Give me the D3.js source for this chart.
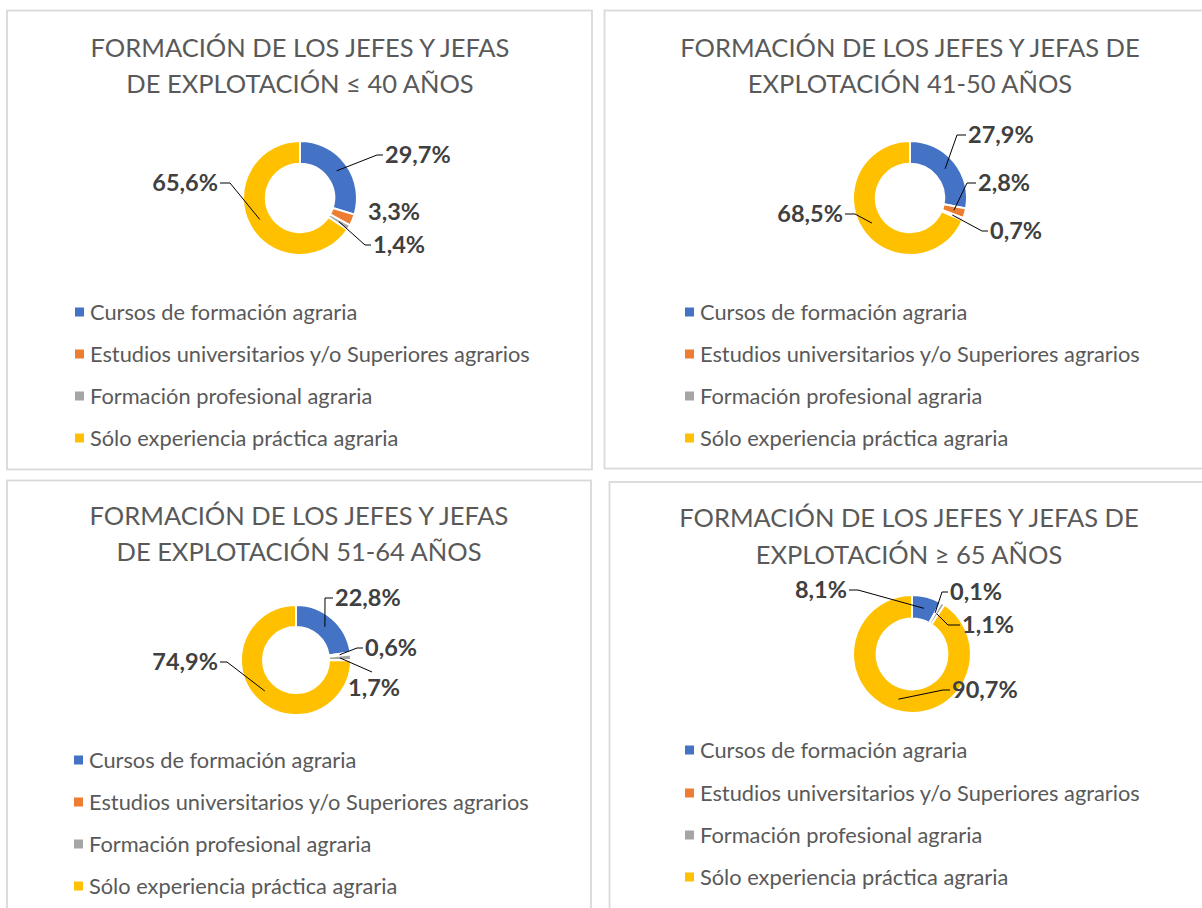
<!DOCTYPE html>
<html><head><meta charset="utf-8">
<script src="https://cdn.jsdelivr.net/npm/d3@7"></script>
<style>body{margin:0;background:#fff}svg{display:block}</style>
</head><body>
<svg id="c" width="1202" height="908"></svg>
<script>
// ---- data ----
const categories = ["Cursos de formación agraria", "Estudios universitarios y/o Superiores agrarios", "Formación profesional agraria", "Sólo experiencia práctica agraria"];
const colors = ["#4472C4", "#ED7D31", "#A5A5A5", "#FFC000"];
const titleP1 = ["FORMACIÓN DE LOS JEFES Y JEFAS", "DE EXPLOTACIÓN ≤ 40 AÑOS"];
const titleP2 = ["FORMACIÓN DE LOS JEFES Y JEFAS DE", "EXPLOTACIÓN 41-50 AÑOS"];
const titleP3 = ["FORMACIÓN DE LOS JEFES Y JEFAS", "DE EXPLOTACIÓN 51-64 AÑOS"];
const titleP4 = ["FORMACIÓN DE LOS JEFES Y JEFAS DE", "EXPLOTACIÓN ≥ 65 AÑOS"];
const valuesP1 = [29.7, 3.3, 1.4, 65.6];
const valuesP2 = [27.9, 2.8, 0.7, 68.5];
const valuesP3 = [22.8, 0.6, 1.7, 74.9];
const valuesP4 = [8.1, 0.1, 1.1, 90.7];

// ---- layout ----
const panels = [
  {box:[7,10.5,585,459], title:titleP1, tx:300, ty:[57,93], values:valuesP1, cx:300, cy:198, r:57,
   labels:[{dx:85,dy:-43,a:"start",ex:77,ey:-43},{dx:68,dy:14,a:"start"},{dx:73,dy:47,a:"start",ex:65,ey:47},{dx:-82,dy:-15,a:"end",ex:-70,ey:-15}],
   lx:90, ly:[312,354,396,438]},
  {box:[604.5,10.5,620,458], title:titleP2, tx:910, ty:[57,93], values:valuesP2, cx:910, cy:198, r:57,
   labels:[{dx:58,dy:-63,a:"start",ex:47,ey:-63},{dx:68,dy:-15,a:"start",ex:57,ey:-15},{dx:80,dy:33,a:"start",ex:72,ey:33},{dx:-67,dy:16,a:"end",ex:-55,ey:16}],
   lx:700, ly:[312,354,396,438]},
  {box:[7,480.5,584,450], title:titleP3, tx:299, ty:[525,561], values:valuesP3, cx:296, cy:660, r:55,
   labels:[{dx:39,dy:-62,a:"start",ex:29,ey:-62},{dx:69,dy:-12,a:"start",ex:61,ey:-12},{dx:52,dy:28,a:"start",ex:76,ey:12,top:true},{dx:-78,dy:2,a:"end",ex:-69,ey:2}],
   lx:89, ly:[760,802,844,886]},
  {box:[609.5,482,620,450], title:titleP4, tx:909, ty:[527,564], values:valuesP4, cx:912, cy:654, r:59,
   labels:[{dx:-65,dy:-64,a:"end",ex:-54,ey:-64},{dx:38,dy:-62,a:"start",ex:30,ey:-62},{dx:50,dy:-29,a:"start",ex:36,ey:-29},{dx:40,dy:36,a:"start",ex:31,ey:36}],
   lx:700, ly:[750,793,835,877]}
];

const svg = d3.select("#c");
const font = "Lato, 'Open Sans', sans-serif";
const fmt = v => d3.format(".1f")(v).replace(".", ",") + "%";

panels.forEach(p => {
  const g = svg.append("g");
  g.append("rect").attr("x",p.box[0]).attr("y",p.box[1]).attr("width",p.box[2]).attr("height",p.box[3])
    .attr("fill","#fff").attr("stroke","#d9d9d9").attr("stroke-width",1.8);
  p.title.forEach((t,i) => g.append("text").attr("x",p.tx).attr("y",p.ty[i]).attr("text-anchor","middle")
    .attr("font-family",font).attr("font-size",25.5).attr("fill","#595959").text(t));

  const pie = d3.pie().sort(null).value(d => d)(p.values);
  const arc = d3.arc().innerRadius(p.r*0.6).outerRadius(p.r);
  const mid = d3.arc().innerRadius(p.r*0.8).outerRadius(p.r*0.8);
  const dg = g.append("g").attr("transform",`translate(${p.cx},${p.cy})`);
  dg.selectAll("path").data(pie).join("path").attr("d",arc)
    .attr("fill",(d,i)=>colors[i]).attr("stroke","#fff").attr("stroke-width",2);

  pie.forEach((d,i) => {
    const L = p.labels[i];
    if (L.ex !== undefined) {
      const c = mid.centroid(d);
      let pts = [c, [L.ex, L.ey]];
      if (!L.top) pts.push([L.a === "start" ? L.dx - 2 : L.dx + 2, L.ey]);
      dg.append("path").attr("d", d3.line()(pts)).attr("fill","none").attr("stroke","#000").attr("stroke-width",1);
    }
    dg.append("text").attr("x",L.dx).attr("y",L.dy).attr("dy","0.36em").attr("text-anchor",L.a)
      .attr("font-family",font).attr("font-weight",700).attr("font-size",23.5).attr("fill","#404040")
      .text(fmt(d.data));
  });

  categories.forEach((c,i) => {
    g.append("rect").attr("x",p.lx-15).attr("y",p.ly[i]-4.5).attr("width",9).attr("height",9).attr("fill",colors[i]);
    g.append("text").attr("x",p.lx).attr("y",p.ly[i]).attr("dy","0.35em").attr("font-family",font)
      .attr("font-size",21.8).attr("fill","#595959").text(c);
  });
});
</script>
</body></html>
